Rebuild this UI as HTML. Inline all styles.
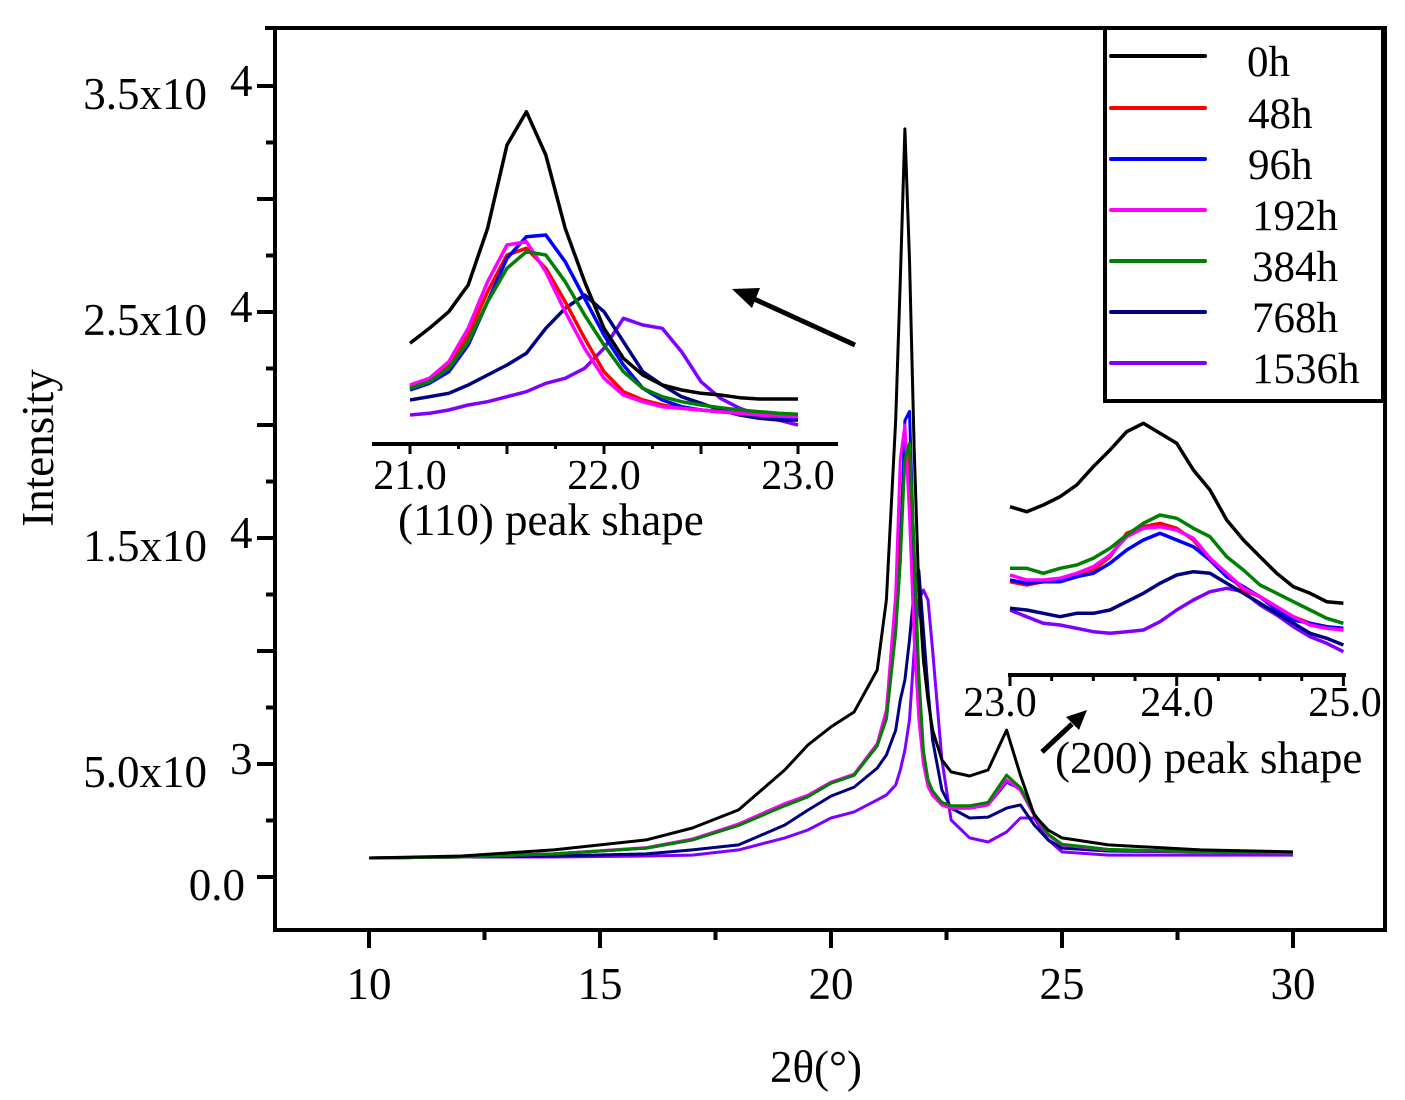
<!DOCTYPE html>
<html><head><meta charset="utf-8">
<style>
html,body{margin:0;padding:0;background:#fff;}
svg{display:block;font-family:"Liberation Serif",serif;}
</style></head>
<body>
<svg id="chart" width="1405" height="1100" viewBox="0 0 1405 1100">
<g id="frame"></g>
<g id="main"></g>
<g id="inset1"></g>
<g id="inset2"></g>
<g id="legend"></g>
</svg>
<script>
const seriesNames = ["0h","48h","96h","192h","384h","768h","1536h"];
const seriesColors = ["#000000","#ff0000","#0000ff","#ff00ff","#008000","#000080","#8000ff"];
const mainX = [10,12,14,16,17,18,19,19.5,20,20.5,21,21.2,21.4,21.5,21.6,21.7,21.8,21.9,22,22.1,22.2,22.4,22.6,23,23.4,23.8,24.1,24.4,24.7,25,26,28,30];
const main0h = [840,930,1200,1640,2170,2970,4740,5840,6640,7300,9160,12260,20220,26420,33100,27300,18900,12700,9600,7830,6500,5180,4650,4470,4740,6500,4510,2740,2080,1730,1420,1200,1110];
const main48h = [840,885,1020,1280,1640,2300,3190,3580,4160,4510,5840,7170,11370,14900,19340,18010,12260,7830,5180,4070,3630,3190,3050,3050,3190,4290,3850,2740,1860,1420,1200,1110,1060];
const main96h = [840,885,1020,1280,1640,2300,3190,3580,4160,4510,5840,7000,11000,14000,20200,20600,14000,8500,5300,4100,3630,3190,3050,3050,3190,4200,3900,2740,1860,1420,1200,1110,1060];
const main192h = [840,885,1020,1300,1680,2350,3250,3620,4200,4550,5900,7400,12500,18500,20000,16000,10500,7000,5000,4000,3600,3190,3050,3050,3190,4300,3850,2740,1860,1420,1200,1110,1060];
const main384h = [840,885,1020,1280,1640,2280,3150,3550,4150,4500,5800,7000,10800,14000,18500,19200,14500,9000,5600,4300,3800,3300,3150,3150,3300,4510,3950,2800,1900,1450,1220,1120,1060];
const main768h = [840,885,930,1020,1200,1420,2300,2960,3580,3980,4820,5400,6500,7830,8720,10490,12700,13580,10930,8270,6060,3850,3050,2610,2650,3050,3190,2300,1640,1280,1150,1110,1060];
const main1536h = [840,885,885,930,970,1200,1730,2080,2610,2880,3410,3630,4070,4730,5620,6950,10040,12260,12700,12260,10040,5180,2520,1730,1550,1990,2610,2610,1640,1110,970,970,970];
const inset1X = [21.0,21.1,21.2,21.3,21.4,21.5,21.6,21.7,21.8,21.9,22.0,22.1,22.2,22.3,22.4,22.5,22.6,22.7,22.8,22.9,23.0];
const in1_0h = [255,300,350,430,600,850,950,820,600,440,300,210,160,130,115,105,100,92,88,88,88];
const in1_48h = [125,145,190,280,410,520,540,480,380,270,170,110,85,70,60,55,50,45,42,38,35];
const in1_96h = [115,135,170,250,380,510,575,580,500,390,280,190,120,85,65,55,50,45,40,35,32];
const in1_192h = [130,150,200,300,440,550,560,470,350,240,150,100,80,65,60,55,50,45,40,37,35];
const in1_384h = [120,140,180,260,380,480,530,520,440,340,250,170,120,95,80,70,62,55,50,45,42];
const in1_768h = [85,95,105,130,160,190,225,300,360,400,350,260,170,130,95,75,55,40,30,25,25];
const in1_1536h = [40,45,55,70,80,95,110,135,150,180,240,330,310,300,230,140,90,60,40,25,10];
const inset2X = [23.0,23.1,23.2,23.3,23.4,23.5,23.6,23.7,23.8,23.9,24.0,24.1,24.2,24.3,24.4,24.5,24.6,24.7,24.8,24.9,25.0];
const in2_0h = [680,665,685,710,745,800,850,905,930,900,870,790,730,640,580,530,480,440,420,395,390];
const in2_48h = [455,445,455,455,470,490,530,600,620,630,615,580,520,480,430,410,380,350,330,320,310];
const in2_96h = [460,450,455,455,470,480,510,550,580,600,580,560,520,470,440,410,370,340,330,320,315];
const in2_192h = [475,460,460,465,480,500,535,590,615,620,610,585,525,480,435,410,380,350,325,315,310];
const in2_384h = [495,495,480,495,505,525,555,595,630,655,645,615,590,530,490,445,420,395,370,345,330];
const in2_768h = [375,370,360,350,360,360,370,395,420,450,475,485,480,450,420,390,360,330,300,285,265];
const in2_1536h = [370,350,330,325,315,305,300,305,310,335,370,400,425,435,425,385,355,320,290,270,245];
const xTicks = [10,15,20,25,30];
const yTickLabels = ["0.0","5.0x10","1.5x10","2.5x10","3.5x10"];
const yTickValues = [0,5000,15000,25000,35000];
const yTickExp = ["","3","4","4","4"];

const NS="http://www.w3.org/2000/svg";
function mk(tag, attrs, parent){const e=document.createElementNS(NS,tag);for(const k in attrs)e.setAttribute(k,attrs[k]);parent.appendChild(e);return e;}
const sx = x => 369 + (x-10)*46.2;
const sy = v => 877 - v*0.0226;
const i1x = x => 410 + (x-21)*194;
const i1y = v => 95 + (1000-v)/3;
const i2x = x => 1010 + (x-23)*166.7;
const i2y = v => 400 + (1000-v)/3;

const FS = 45;
const frame=document.getElementById('frame');
let el;
el=mk('path',{d:'M275 28 V930 H1385 V28 H265',fill:'none',stroke:'#000','stroke-width':4},frame);

for(let v=0; v<=35000; v+=2500){
  const major = v%5000===0;
  el=mk('line',{x1:major?257:266,x2:275,y1:sy(v),y2:sy(v),stroke:'#000','stroke-width':4},frame);
  
}
yTickValues.forEach((v,i)=>{
  const t=mk('text',{x:i===0?245:207,y:sy(v)+23,'font-size':FS,'text-anchor':'end'},frame);
  t.textContent=yTickLabels[i];
  
  if(yTickExp[i]){const s=mk('text',{x:230,y:sy(v)+10,'font-size':FS},frame);s.textContent=yTickExp[i];
    }
});
for(let x=10; x<=31; x+=2.5){
  const major = x%5===0;
  el=mk('line',{x1:sx(x),x2:sx(x),y1:930,y2:major?948:940,stroke:'#000','stroke-width':4},frame);
  
}
xTicks.forEach(x=>{const t=mk('text',{x:sx(x),y:999,'font-size':FS,'text-anchor':'middle'},frame);t.textContent=x;
  });
el=mk('text',{x:816,y:1082,'font-size':FS,'text-anchor':'middle'},frame);el.textContent='2θ(°)';

el=mk('text',{x:0,y:0,'font-size':FS,'text-anchor':'middle',transform:'translate(53,448) rotate(-90)'},frame);el.textContent='Intensity';


function line(parent, xs, ys, fx, fy, color, w, name){
  const d = xs.map((x,i)=>(i?'L':'M')+fx(x).toFixed(1)+' '+fy(ys[i]).toFixed(1)).join(' ');
  const p = mk('path',{d:d,fill:'none',stroke:color,'stroke-width':w,'stroke-linejoin':'round'},parent);
  
  
}
const mainSets=[main0h,main48h,main96h,main192h,main384h,main768h,main1536h];
const in1Sets=[in1_0h,in1_48h,in1_96h,in1_192h,in1_384h,in1_768h,in1_1536h];
const in2Sets=[in2_0h,in2_48h,in2_96h,in2_192h,in2_384h,in2_768h,in2_1536h];
const order=[6,5,1,2,3,4,0];
const gm=document.getElementById('main'),g1=document.getElementById('inset1'),g2=document.getElementById('inset2');
order.forEach(i=>{
  line(gm, mainX, mainSets[i], sx, sy, seriesColors[i], 3, 'series-'+seriesNames[i]);
  line(g1, inset1X, in1Sets[i], i1x, i1y, seriesColors[i], 3.5, 'inset110-series-'+seriesNames[i]);
  line(g2, inset2X, in2Sets[i], i2x, i2y, seriesColors[i], 3.5, 'inset200-series-'+seriesNames[i]);
});
// inset axes
el=mk('line',{x1:372,x2:838,y1:444,y2:444,stroke:'#000','stroke-width':4},g1);

for(let x=21; x<=23.01; x+=0.25){el=mk('line',{x1:i1x(x),x2:i1x(x),y1:444,y2:(Math.abs(x*2-Math.round(x*2))<0.01)?454:449,stroke:'#000','stroke-width':3},g1);
  }
[21,22,23].forEach(x=>{const t=mk('text',{x:i1x(x),y:489,'font-size':42,'text-anchor':'middle'},g1);t.textContent=x.toFixed(1);
  });
el=mk('text',{x:398,y:535,'font-size':FS},g1);el.textContent='(110) peak shape';

el=mk('line',{x1:855,y1:345,x2:752,y2:298,stroke:'#000','stroke-width':5},g1);

el=mk('polygon',{points:'732,289 760,288 752,308'},g1);


el=mk('line',{x1:1008,x2:1346,y1:675,y2:675,stroke:'#000','stroke-width':4},g2);

for(let x=23; x<=25.01; x+=0.25){el=mk('line',{x1:i2x(x),x2:i2x(x),y1:675,y2:(Math.abs(x-Math.round(x))<0.01)?686:681,stroke:'#000','stroke-width':3},g2);
  }
[[23,1000],[24,1177],[25,1345]].forEach(([x,px])=>{const t=mk('text',{x:px,y:716,'font-size':42,'text-anchor':'middle'},g2);t.textContent=x.toFixed(1);
  });
el=mk('text',{x:1055,y:773,'font-size':FS},g2);el.textContent='(200) peak shape';

el=mk('line',{x1:1042,y1:752,x2:1072,y2:724,stroke:'#000','stroke-width':5},g2);

el=mk('polygon',{points:'1087,710 1066,717 1079,730'},g2);


// legend
const lg=document.getElementById('legend');
el=mk('rect',{x:1105,y:28,width:278,height:373,fill:'#fff',stroke:'#000','stroke-width':4},lg);

const rowY=[56,108,159,210,261,312,363];
seriesNames.forEach((n,i)=>{
  const l=mk('line',{x1:1111,x2:1205,y1:rowY[i],y2:rowY[i],stroke:seriesColors[i],'stroke-width':4,'stroke-linecap':'round'},lg);
  
  const t=mk('text',{x:n.length>3?1252:(n.length>2?1248:1247),y:rowY[i]+20,'font-size':43},lg);t.textContent=n;
  
});
</script>
</body></html>
